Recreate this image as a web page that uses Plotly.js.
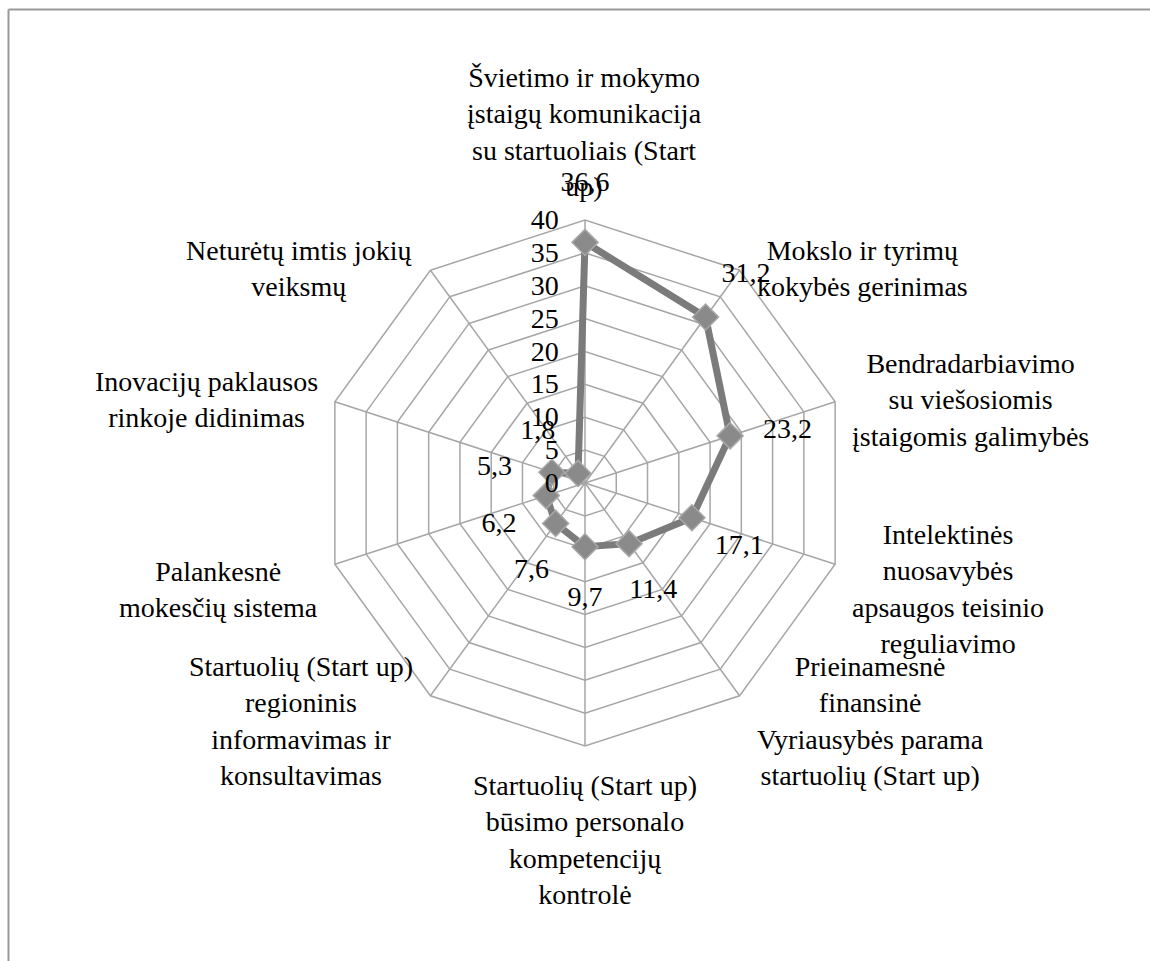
<!DOCTYPE html>
<html>
<head>
<meta charset="utf-8">
<script src="https://cdn.plot.ly/plotly-3.0.1.min.js"></script>
<style>html,body{margin:0;padding:0;background:#fff;}#chart{width:1150px;height:961px;}</style>
</head>
<body>
<div id="chart"></div>
<script>
const categories = [
  "Švietimo ir mokymo įstaigų komunikacija su startuoliais (Start up)",
  "Mokslo ir tyrimų kokybės gerinimas",
  "Bendradarbiavimo su viešosiomis įstaigomis galimybės",
  "Intelektinės nuosavybės apsaugos teisinio reguliavimo",
  "Prieinamesnė finansinė Vyriausybės parama startuolių (Start up)",
  "Startuolių (Start up) būsimo personalo kompetencijų kontrolė",
  "Startuolių (Start up) regioninis informavimas ir konsultavimas",
  "Palankesnė mokesčių sistema",
  "Inovacijų paklausos rinkoje didinimas",
  "Neturėtų imtis jokių veiksmų"
];
const wrappedLabels = [
  "Švietimo ir mokymo<br>įstaigų komunikacija<br>su startuoliais (Start<br>up)",
  "Mokslo ir tyrimų<br>kokybės gerinimas",
  "Bendradarbiavimo<br>su viešosiomis<br>įstaigomis galimybės",
  "Intelektinės<br>nuosavybės<br>apsaugos teisinio<br>reguliavimo",
  "Prieinamesnė<br>finansinė<br>Vyriausybės parama<br>startuolių (Start up)",
  "Startuolių (Start up)<br>būsimo personalo<br>kompetencijų<br>kontrolė",
  "Startuolių (Start up)<br>regioninis<br>informavimas ir<br>konsultavimas",
  "Palankesnė<br>mokesčių sistema",
  "Inovacijų paklausos<br>rinkoje didinimas",
  "Neturėtų imtis jokių<br>veiksmų"
];
const values = [36.6, 31.2, 23.2, 17.1, 11.4, 9.7, 7.6, 6.2, 5.3, 1.8];
const radialTicks = [0, 5, 10, 15, 20, 25, 30, 35, 40];
const rMax = 40;      // outer grid ring
const rView = 50;     // drawing range (room for the data labels outside the ring)

const W = 1150, H = 961;
const cx = 585, cy = 483, R = 263;          // pixel radius of the rMax ring
const Rview = R * rView / rMax;
const FONT = "Liberation Serif, Times New Roman, serif";
const FS = 28;
const GRID = '#a6a6a6';
const pxPerUnit = R / rMax;

// angle of each category (clockwise from top)
const ang = categories.map((c, i) => (90 - i * 360 / categories.length) * Math.PI / 180);

const closedTheta = categories.concat([categories[0]]);
const closedR = values.concat([values[0]]);

// spokes from the centre to the outer ring
const spokeR = [], spokeT = [];
categories.forEach(c => { spokeR.push(0, rMax, null); spokeT.push(c, c, null); });

// data label radial offset (pixels -> data units), larger above, smaller below
const labelR = values.map((v, i) => v + (55 + 17 * Math.sin(ang[i])) / pxPerUnit);

const traces = [
  {
    type: 'scatterpolar',
    r: spokeR,
    theta: spokeT,
    mode: 'lines',
    connectgaps: false,
    line: {color: GRID, width: 1.5},
    hoverinfo: 'skip',
    showlegend: false
  },
  {
    type: 'scatterpolar',
    r: closedR,
    theta: closedTheta,
    mode: 'lines',
    line: {color: '#7b7b7b', width: 7},
    hoverinfo: 'skip',
    showlegend: false
  },
  {
    type: 'scatterpolar',
    r: values,
    theta: categories,
    mode: 'markers',
    marker: {symbol: 'diamond', size: 20, color: '#8a8a8a', line: {color: '#a8a8a8', width: 1.5}},
    showlegend: false
  },
  {
    type: 'scatterpolar',
    r: labelR,
    theta: categories,
    mode: 'text',
    text: values.map(v => v.toFixed(1).replace('.', ',')),
    textposition: 'bottom center',
    textfont: {family: FONT, size: FS, color: '#000'},
    hoverinfo: 'skip',
    showlegend: false
  }
];

// category labels placed outside the outer ring, centred text like the original
const annotations = wrappedLabels.map((t, i) => {
  const c = Math.cos(ang[i]), s = Math.sin(ang[i]);
  const vx = cx + R * c, vy = cy - R * s;
  let x, y, xanchor, yanchor;
  if (Math.abs(c) < 0.1) {
    x = vx; xanchor = 'center';
    if (s > 0) { y = vy - 16; yanchor = 'bottom'; } else { y = vy + 22; yanchor = 'top'; }
  } else {
    x = vx + (c > 0 ? 15 : -15); xanchor = c > 0 ? 'left' : 'right';
    y = vy + (s < 0 ? 25 : -2); yanchor = 'middle';
  }
  return {
    text: t, xref: 'paper', yref: 'paper', x: x / W, y: 1 - y / H,
    xanchor: xanchor, yanchor: yanchor, align: 'center', showarrow: false,
    font: {family: FONT, size: FS, color: '#000'}
  };
});

const layout = {
  width: W, height: H,
  margin: {l: 0, r: 0, t: 0, b: 0},
  paper_bgcolor: '#fff',
  showlegend: false,
  font: {family: FONT, size: FS, color: '#000'},
  polar: {
    domain: {x: [(cx - Rview) / W, (cx + Rview) / W], y: [(H - cy - Rview) / H, (H - cy + Rview) / H]},
    gridshape: 'linear',
    bgcolor: 'rgba(0,0,0,0)',
    radialaxis: {
      range: [0, rView],
      tickvals: radialTicks,
      ticktext: radialTicks.map(String),
      angle: 90,
      side: 'counterclockwise',
      showline: false,
      gridcolor: GRID,
      gridwidth: 1.5,
      ticks: 'outside',
      ticklen: 16,
      tickcolor: 'rgba(0,0,0,0)',
      tickfont: {family: FONT, size: FS, color: '#000'},
      tickangle: 90
    },
    angularaxis: {
      direction: 'clockwise',
      rotation: 90,
      showline: false,
      showgrid: false,
      ticks: '',
      showticklabels: false
    }
  },
  annotations: annotations,
  shapes: [
    {type: 'line', xref: 'paper', yref: 'paper', x0: 8.5 / W, x1: 1.05, y0: 1 - 9.5 / H, y1: 1 - 9.5 / H, line: {color: '#999', width: 2}},
    {type: 'line', xref: 'paper', yref: 'paper', x0: 8.5 / W, x1: 8.5 / W, y0: 1 - 9.5 / H, y1: -0.05, line: {color: '#999', width: 2}}
  ]
};

Plotly.newPlot('chart', traces, layout, {displayModeBar: false, staticPlot: true});
</script>
</body>
</html>
